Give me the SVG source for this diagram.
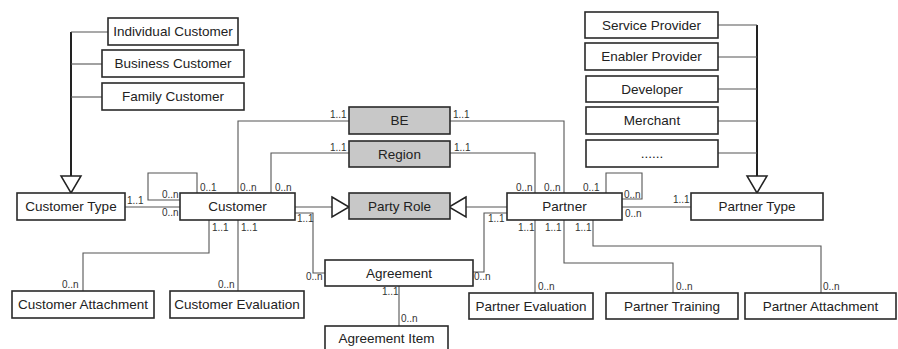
<svg xmlns="http://www.w3.org/2000/svg" width="898" height="349" viewBox="0 0 898 349">
<style>
.box{fill:#fff;stroke:#2a2a2a;stroke-width:1.6}
.g{fill:#c8c8c8}
.t{font-family:"Liberation Sans",Arial,sans-serif;font-size:13.5px;fill:#222;text-anchor:middle}
.m{font-family:"Liberation Sans",Arial,sans-serif;font-size:10px;fill:#333}
.c{fill:none;stroke:#555;stroke-width:1.1}
.gen{fill:none;stroke:#222;stroke-width:2}
.tri{fill:#fff;stroke:#222;stroke-width:1.5}
</style>
<rect width="898" height="349" fill="#fff"/>
<g id="connectors">
<polyline class="gen" points="71,32 71,176"/>
<polyline class="c" points="71,32 108,32"/>
<polyline class="c" points="71,64 102,64"/>
<polyline class="c" points="71,97 102,97"/>
<polygon class="tri" points="61,176 81,176 71,193"/>
<polyline class="gen" points="757,25 757,176"/>
<polyline class="c" points="718,25 757,25"/>
<polyline class="c" points="718,57 757,57"/>
<polyline class="c" points="718,89 757,89"/>
<polyline class="c" points="718,121 757,121"/>
<polyline class="c" points="718,153 757,153"/>
<polygon class="tri" points="747,176 767,176 757,193"/>
<polyline class="c" points="125,207 180,207"/>
<polyline class="c" points="197,193 197,173 148,173 148,200 180,200"/>
<polyline class="c" points="238,193 238,121 349,121"/>
<polyline class="c" points="271,193 271,153 349,153"/>
<polyline class="c" points="450,121 564,121 564,193"/>
<polyline class="c" points="449,153 535,153 535,193"/>
<polyline class="c" points="295,207 332,207"/>
<polygon class="tri" points="332,197 349,207 332,217"/>
<polyline class="c" points="507,207 466,207"/>
<polygon class="tri" points="466,197 449,207 466,217"/>
<polyline class="c" points="295,213 313,213 313,273 325,273"/>
<polyline class="c" points="507,213 484,213 484,272 473,272"/>
<polyline class="c" points="606,193 606,173 642,173 642,199 622,199"/>
<polyline class="c" points="622,207 691,207"/>
<polyline class="c" points="209,220 209,253 83,253 83,291"/>
<polyline class="c" points="238,220 238,291"/>
<polyline class="c" points="399,286 399,326"/>
<polyline class="c" points="535,220 535,293"/>
<polyline class="c" points="564,220 564,263 673,263 673,293"/>
<polyline class="c" points="593,220 593,246 821,246 821,293"/>
</g>
<g id="labels">
<text class="m" x="127" y="204">1..1</text>
<text class="m" x="162" y="216">0..n</text>
<text class="m" x="162" y="198">0..n</text>
<text class="m" x="200" y="191">0..1</text>
<text class="m" x="240" y="191">0..n</text>
<text class="m" x="275" y="191">0..n</text>
<text class="m" x="297" y="222">1..1</text>
<text class="m" x="212" y="231">1..1</text>
<text class="m" x="241" y="231">1..1</text>
<text class="m" x="330" y="118">1..1</text>
<text class="m" x="453" y="118">1..1</text>
<text class="m" x="330" y="151">1..1</text>
<text class="m" x="454" y="151">1..1</text>
<text class="m" x="488" y="222">1..1</text>
<text class="m" x="516" y="191">0..n</text>
<text class="m" x="544" y="191">0..n</text>
<text class="m" x="583" y="191">0..1</text>
<text class="m" x="624" y="198">0..n</text>
<text class="m" x="625" y="217">0..n</text>
<text class="m" x="673" y="203">1..1</text>
<text class="m" x="518" y="231">1..1</text>
<text class="m" x="545" y="231">1..1</text>
<text class="m" x="575" y="231">1..1</text>
<text class="m" x="62" y="288">0..n</text>
<text class="m" x="218" y="288">0..n</text>
<text class="m" x="306" y="280">0..n</text>
<text class="m" x="382" y="295">1..1</text>
<text class="m" x="401" y="322">0..n</text>
<text class="m" x="474" y="280">0..n</text>
<text class="m" x="538" y="290">0..n</text>
<text class="m" x="676" y="290">0..n</text>
<text class="m" x="823" y="290">0..n</text>
</g>
<g id="individual-customer"><rect class="box" x="108" y="18" width="130" height="27"/><text class="t" x="173" y="36">Individual Customer</text></g>
<g id="business-customer"><rect class="box" x="102" y="50" width="142" height="27"/><text class="t" x="173" y="68">Business Customer</text></g>
<g id="family-customer"><rect class="box" x="102" y="83" width="142" height="27"/><text class="t" x="173" y="101">Family Customer</text></g>
<g id="customer-type"><rect class="box" x="17" y="193" width="108" height="27"/><text class="t" x="71" y="211">Customer Type</text></g>
<g id="customer"><rect class="box" x="180" y="193" width="115" height="27"/><text class="t" x="237.5" y="211">Customer</text></g>
<g id="be"><rect class="box g" x="349" y="107" width="101" height="27"/><text class="t" x="399.5" y="125">BE</text></g>
<g id="region"><rect class="box g" x="349" y="141" width="101" height="26"/><text class="t" x="399.5" y="158.5">Region</text></g>
<g id="party-role"><rect class="box g" x="349" y="193" width="101" height="26"/><text class="t" x="399.5" y="210.5">Party Role</text></g>
<g id="partner"><rect class="box" x="507" y="193" width="115" height="27"/><text class="t" x="564.5" y="211">Partner</text></g>
<g id="partner-type"><rect class="box" x="691" y="193" width="132" height="27"/><text class="t" x="757" y="211">Partner Type</text></g>
<g id="service-provider"><rect class="box" x="585" y="12" width="133" height="26"/><text class="t" x="651.5" y="29.5">Service Provider</text></g>
<g id="enabler-provider"><rect class="box" x="585" y="43" width="133" height="27"/><text class="t" x="651.5" y="61">Enabler Provider</text></g>
<g id="developer"><rect class="box" x="586" y="76" width="132" height="26"/><text class="t" x="652" y="93.5">Developer</text></g>
<g id="merchant"><rect class="box" x="586" y="107" width="132" height="27"/><text class="t" x="652" y="125">Merchant</text></g>
<g id="more"><rect class="box" x="586" y="140" width="132" height="27"/><text class="t" x="652" y="158">......</text></g>
<g id="customer-attachment"><rect class="box" x="12" y="291" width="142" height="27"/><text class="t" x="83" y="309">Customer Attachment</text></g>
<g id="customer-evaluation"><rect class="box" x="170" y="291" width="134" height="27"/><text class="t" x="237" y="309">Customer Evaluation</text></g>
<g id="agreement"><rect class="box" x="325" y="260" width="148" height="26"/><text class="t" x="399" y="277.5">Agreement</text></g>
<g id="agreement-item"><rect class="box" x="325" y="326" width="123" height="30"/><text class="t" x="386.5" y="343">Agreement Item</text></g>
<g id="partner-evaluation"><rect class="box" x="469" y="293" width="124" height="26"/><text class="t" x="531" y="310.5">Partner Evaluation</text></g>
<g id="partner-training"><rect class="box" x="606" y="293" width="132" height="26"/><text class="t" x="672" y="310.5">Partner Training</text></g>
<g id="partner-attachment"><rect class="box" x="745" y="293" width="151" height="26"/><text class="t" x="820.5" y="310.5">Partner Attachment</text></g>
</svg>
